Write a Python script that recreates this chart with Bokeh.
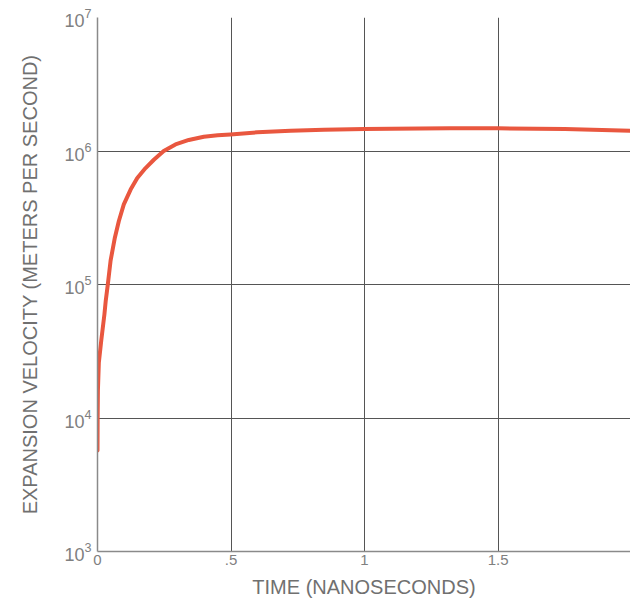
from bokeh.plotting import figure
from bokeh.models import FixedTicker, Range1d
from bokeh.embed import file_html
from bokeh.resources import INLINE

# Data
time_ns = [0.0, 0.0005, 0.0015, 0.005, 0.014, 0.026, 0.031, 0.0386, 0.049, 0.065,
           0.080, 0.0985, 0.124, 0.149, 0.180, 0.211, 0.248, 0.292, 0.342, 0.398,
           0.45, 0.498, 0.598, 0.723, 0.848, 1.0, 1.1, 1.32, 1.5, 1.75, 2.0]
velocity = [5.7e3, 1.0e4, 1.6e4, 2.6e4, 3.8e4, 6.0e4, 7.6e4, 1.0e5, 1.51e5, 2.24e5,
            2.99e5, 3.98e5, 5.14e5, 6.28e5, 7.45e5, 8.6e5, 1.0e6, 1.12e6, 1.21e6, 1.28e6,
            1.31e6, 1.33e6, 1.38e6, 1.42e6, 1.445e6, 1.46e6, 1.47e6, 1.48e6, 1.48e6, 1.46e6, 1.42e6]
x_ticks = [0, 0.5, 1, 1.5, 2]
x_tick_labels = ["0", ".5", "1", "1.5", "2"]
y_ticks = [1e3, 1e4, 1e5, 1e6, 1e7]

FONT = "Liberation Sans"
GREY = "#808080"

p = figure(width=630, height=603, y_axis_type="log",
           x_range=Range1d(0, 1.996), y_range=Range1d(1e3, 1e7),
           output_backend="svg", toolbar_location=None,
           min_border_left=97, min_border_right=0, min_border_top=17,
           min_border_bottom=52)
p.outline_line_color = None
p.background_fill_color = "white"
p.border_fill_color = "white"

p.line(time_ns, velocity, line_color="#e9573f", line_width=4,
       line_cap="round", line_join="round")

# grid
p.xgrid.ticker = FixedTicker(ticks=[0.5, 1, 1.5, 2])
p.ygrid.ticker = FixedTicker(ticks=[1e4, 1e5, 1e6, 1e7])
for g in (p.xgrid[0], p.ygrid[0]):
    g.grid_line_color = "#555555"
    g.grid_line_width = 1
    g.grid_line_alpha = 1

# x axis
xa = p.xaxis[0]
xa.ticker = FixedTicker(ticks=x_ticks)
xa.major_label_overrides = {t: l for t, l in zip(x_ticks, x_tick_labels)}
xa.axis_label = "TIME (NANOSECONDS)"

# y axis
ya = p.yaxis[0]
ya.ticker = FixedTicker(ticks=y_ticks)
ya.axis_label = "EXPANSION VELOCITY (METERS PER SECOND)"

for ax in (xa, ya):
    ax.axis_line_color = "#8a8a8a"
    ax.axis_line_width = 1.5
    ax.major_tick_line_color = None
    ax.minor_tick_line_color = None
    ax.major_tick_out = 0
    ax.major_tick_in = 0
    ax.minor_tick_out = 0
    ax.major_label_text_font = FONT
    ax.major_label_text_color = GREY
    ax.major_label_text_font_size = "15px"
    ax.axis_label_text_font = FONT
    ax.axis_label_text_color = "#707070"
    ax.axis_label_text_font_size = "20px"
    ax.axis_label_text_font_style = "normal"

ya.major_label_text_font_size = "18px"
xa.major_label_standoff = 3
xa.axis_label_standoff = 8
ya.major_label_standoff = 6
ya.axis_label_standoff = 20

open("out.html", "w").write(file_html(p, INLINE))
